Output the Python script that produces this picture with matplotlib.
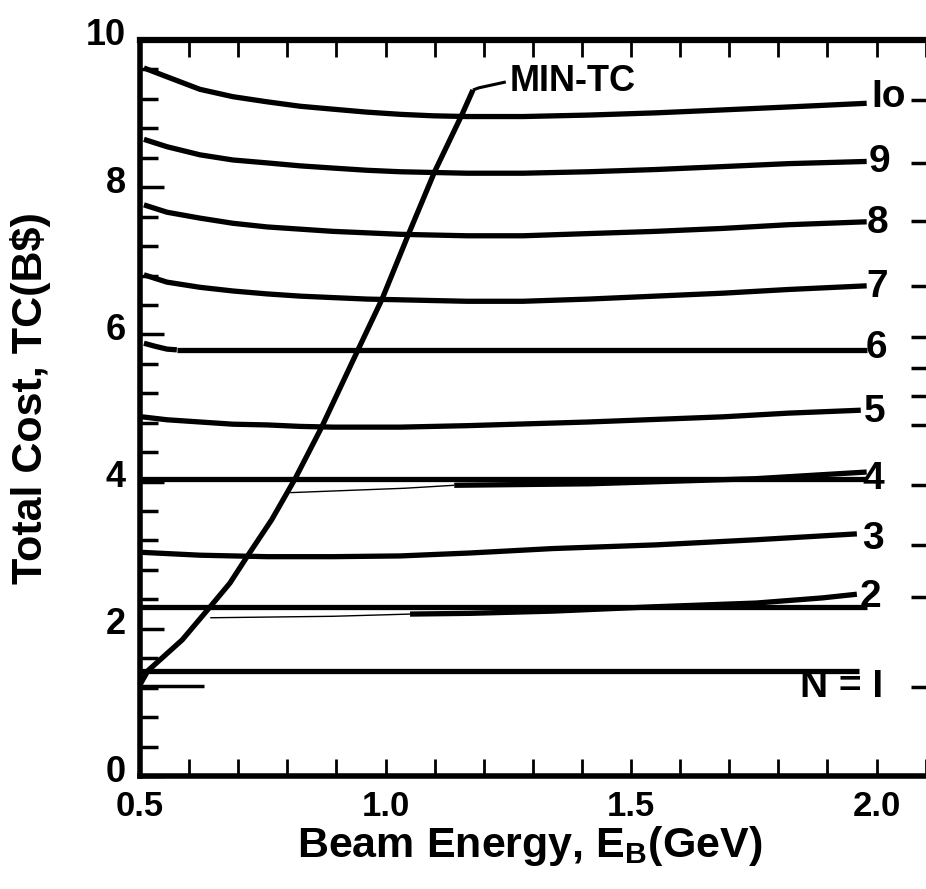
import matplotlib
matplotlib.use("Agg")
import matplotlib.pyplot as plt
import matplotlib.transforms as mtrans
from matplotlib.ticker import MultipleLocator, FixedLocator, NullFormatter

plt.rcParams['font.family'] = ['Liberation Sans', 'DejaVu Sans']
plt.rcParams['font.weight'] = 'bold'
plt.rcParams['mathtext.fontset'] = 'custom'
plt.rcParams['mathtext.bf'] = 'Liberation Sans:bold'
plt.rcParams['mathtext.rm'] = 'Liberation Sans:bold'
plt.rcParams['mathtext.it'] = 'Liberation Sans:bold'

# ---------------- data ----------------
e_n10 = [0.508, 0.555, 0.622, 0.689, 0.759, 0.826, 0.893, 0.962, 1.03, 1.097, 1.166,
         1.28, 1.414, 1.55, 1.687, 1.82, 1.98]
tc_n10 = [9.62, 9.50, 9.33, 9.23, 9.16, 9.10, 9.06, 9.02, 8.99, 8.97, 8.96,
          8.96, 8.98, 9.01, 9.05, 9.09, 9.14]

e_n9 = [0.508, 0.555, 0.622, 0.689, 0.759, 0.826, 0.893, 0.962, 1.03, 1.097, 1.166,
        1.28, 1.414, 1.55, 1.687, 1.82, 1.98]
tc_n9 = [8.65, 8.55, 8.44, 8.37, 8.33, 8.29, 8.26, 8.23, 8.21, 8.20, 8.19,
         8.19, 8.21, 8.24, 8.28, 8.32, 8.35]

e_n8 = [0.508, 0.555, 0.622, 0.689, 0.759, 0.826, 0.893, 0.962, 1.03, 1.097, 1.166,
        1.28, 1.414, 1.55, 1.687, 1.82, 1.98]
tc_n8 = [7.76, 7.66, 7.58, 7.51, 7.46, 7.43, 7.40, 7.38, 7.36, 7.35, 7.34,
         7.34, 7.37, 7.40, 7.44, 7.49, 7.53]

e_n7 = [0.508, 0.555, 0.622, 0.689, 0.759, 0.826, 0.893, 0.962, 1.03, 1.097, 1.166,
        1.28, 1.414, 1.55, 1.687, 1.82, 1.98]
tc_n7 = [6.81, 6.71, 6.64, 6.59, 6.55, 6.52, 6.50, 6.48, 6.47, 6.46, 6.45,
         6.45, 6.48, 6.52, 6.56, 6.61, 6.66]

e_n6_left = [0.508, 0.530, 0.555, 0.575]
tc_n6_left = [5.88, 5.84, 5.80, 5.79]
e_n6 = [0.575, 1.98]
tc_n6 = [5.79, 5.79]

e_n5 = [0.504, 0.555, 0.622, 0.689, 0.759, 0.826, 0.893, 0.962, 1.03, 1.166,
        1.414, 1.687, 1.82, 1.968]
tc_n5 = [4.88, 4.84, 4.81, 4.78, 4.77, 4.75, 4.74, 4.74, 4.74, 4.76,
         4.81, 4.88, 4.93, 4.97]

e_n4_flat = [0.50, 1.98]
tc_n4_flat = [4.04, 4.04]
e_n4 = [0.806, 1.04, 1.14, 1.414, 1.755, 1.98]
tc_n4 = [3.85, 3.91, 3.95, 3.97, 4.04, 4.13]

e_n3 = [0.50, 0.622, 0.759, 0.893, 1.03, 1.172, 1.34, 1.55, 1.755, 1.96]
tc_n3 = [3.04, 3.00, 2.98, 2.98, 2.99, 3.03, 3.09, 3.14, 3.21, 3.29]

e_n2_flat = [0.50, 1.98]
tc_n2_flat = [2.30, 2.30]
e_n2 = [0.643, 0.893, 1.05, 1.172, 1.34, 1.55, 1.755, 1.89, 1.96]
tc_n2 = [2.15, 2.17, 2.20, 2.21, 2.24, 2.30, 2.35, 2.42, 2.47]

e_n1 = [0.49, 1.964]
tc_n1 = [1.43, 1.43]

e_stub = [0.50, 0.63]
tc_stub = [1.22, 1.22]

e_min = [0.50, 0.516, 0.586, 0.643, 0.683, 0.72, 0.768, 0.816, 0.870, 0.944, 0.993,
         1.048, 1.10, 1.156, 1.178]
tc_min = [1.24, 1.43, 1.85, 2.30, 2.62, 3.00, 3.48, 4.04, 4.74, 5.79, 6.48,
          7.38, 8.21, 8.99, 9.32]

e_leader = [1.178, 1.190, 1.245]
tc_leader = [9.32, 9.35, 9.43]

curve_labels = ["Io", "9", "8", "7", "6", "5", "4", "3", "2"]
label_tc = [9.22, 8.34, 7.51, 6.64, 5.82, 4.95, 4.04, 3.22, 2.43]
label_e = [1.99, 1.983, 1.98, 1.98, 1.978, 1.975, 1.972, 1.97, 1.966]
n1_label = "N = I"

x_tick_vals = [0.5, 1.0, 1.5, 2.0]
x_tick_labels = ["0.5", "1.0", "1.5", "2.0"]
y_tick_vals = [0, 2, 4, 6, 8, 10]
y_tick_labels = ["0", "2", "4", "6", "8", "10"]
right_ticks = [9.18, 8.33, 7.54, 6.66, 5.96, 5.54, 5.16, 4.77, 3.95, 3.14, 2.43, 1.21]

# ---------------- figure ----------------
W, H = 926, 889
fig = plt.figure(figsize=(W / 100, H / 100), dpi=100)
ax = fig.add_axes([140 / W, (H - 776) / H, 790 / W, 736 / H])
ax.set_xlim(0.5, 0.5 + 790 / 491)
ax.set_ylim(0, 10)

LW = 3.8
k = dict(color='black', solid_capstyle='butt', solid_joinstyle='round')
for xs, ys in [(e_n10, tc_n10), (e_n9, tc_n9), (e_n8, tc_n8), (e_n7, tc_n7),
               (e_n6_left, tc_n6_left), (e_n6, tc_n6), (e_n5, tc_n5),
               (e_n4_flat, tc_n4_flat), (e_n3, tc_n3), (e_n2_flat, tc_n2_flat),
               (e_n1, tc_n1), (e_min, tc_min)]:
    ax.plot(xs, ys, lw=LW, **k)
ax.plot(e_n4[:3], tc_n4[:3], lw=1.0, **k)
ax.plot(e_n4[2:], tc_n4[2:], lw=LW, **k)
ax.plot(e_n2[:3], tc_n2[:3], lw=1.0, **k)
ax.plot(e_n2[2:], tc_n2[2:], lw=LW, **k)
ax.plot(e_stub, tc_stub, lw=2.5, **k)
ax.plot(e_leader, tc_leader, lw=2.2, **k)

ax.text(1.253, 9.43, "MIN-TC", fontsize=26, fontweight='bold', ha='left', va='center')
for lab, e, tc in zip(curve_labels, label_e, label_tc):
    ax.text(e, tc, lab, fontsize=28, fontweight='bold', ha='left', va='center')
ax.text(1.844, 1.21, n1_label, fontsize=28, fontweight='bold', ha='left', va='center')

# spines
for s in ['left', 'bottom', 'top', 'right']:
    ax.spines[s].set_linewidth(4)
ax.spines['top'].set_linewidth(4.5)

# ticks
ax.xaxis.set_major_locator(FixedLocator(x_tick_vals))
ax.set_xticklabels(x_tick_labels, fontsize=25, fontweight='bold')
ax.xaxis.set_minor_locator(MultipleLocator(0.1))
ax.yaxis.set_major_locator(FixedLocator(y_tick_vals))
ax.set_yticklabels(y_tick_labels, fontsize=26, fontweight='bold')
ax.yaxis.set_minor_locator(MultipleLocator(0.4))
ax.tick_params(axis='x', which='both', direction='in', top=True, bottom=True,
               length=12, width=2, pad=10)
ax.tick_params(axis='y', which='major', direction='in', left=True, right=False,
               length=17, width=2.5, pad=10)
ax.tick_params(axis='y', which='minor', direction='in', left=True, right=False,
               length=13, width=2.5)

# y tick labels sit a little above their ticks in the reference
off = mtrans.ScaledTranslation(0, 8 / 100, fig.dpi_scale_trans)
for lab in ax.get_yticklabels():
    lab.set_transform(lab.get_transform() + off)

ax2 = ax.twinx()
ax2.set_ylim(0, 10)
ax2.yaxis.set_major_locator(FixedLocator(right_ticks))
ax2.yaxis.set_major_formatter(NullFormatter())
ax2.tick_params(axis='y', direction='in', length=14, width=2.5, right=True)
for s in ['left', 'bottom', 'top', 'right']:
    ax2.spines[s].set_visible(False)

fig.text(297 / W, (H - 857) / H, r"Beam Energy, $\mathbf{E_B}$(GeV)",
         fontsize=31, fontweight='bold', ha='left', va='baseline')
fig.text(31 / W, (H - 398) / H, "Total Cost, TC(B$)", fontsize=31,
         fontweight='bold', rotation=90, ha='center', va='center')

fig.savefig("out.png", dpi=100)
